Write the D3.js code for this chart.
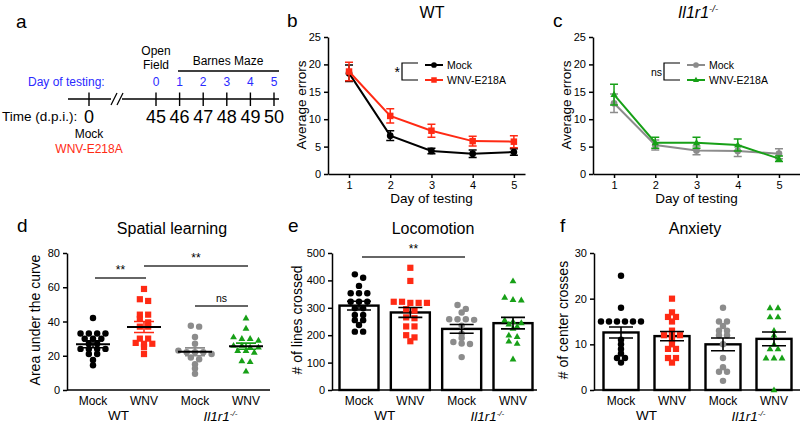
<!DOCTYPE html>
<html><head><meta charset="utf-8">
<script src="https://cdn.jsdelivr.net/npm/d3@7"></script>
<style>
body{margin:0;background:#fff;}
svg{display:block;font-family:"Liberation Sans",Arial,Helvetica,sans-serif;}
</style></head><body>
<svg id="chart" width="800" height="424"></svg>
<script>
// ---------------- data ----------------
const timelineDays = [0, 45, 46, 47, 48, 49, 50];
const testingDayLabels = ["", "0", "1", "2", "3", "4", "5"];

const days = [1, 2, 3, 4, 5];
const wtMockErrors = [18.4, 7.0, 4.2, 3.7, 4.0];
const wtMockSem    = [1.5, 0.9, 0.5, 0.7, 0.6];
const wtWnvErrors  = [18.7, 10.6, 7.9, 6.0, 5.9];
const wtWnvSem     = [1.7, 1.3, 1.2, 0.9, 1.1];
const koMockErrors = [12.9, 5.3, 4.3, 4.2, 3.7];
const koMockSem    = [1.7, 0.9, 0.8, 1.0, 0.9];
const koWnvErrors  = [14.5, 5.7, 5.7, 5.3, 2.8];
const koWnvSem     = [1.9, 1.0, 1.0, 1.1, 0.5];

const groupLabels = ["Mock", "WNV", "Mock", "WNV"];

// d: Spatial learning (area under the curve)
const aucWtMock  = [42, 33, 33, 33, 33, 30, 30, 30, 27, 27, 24, 24, 24, 24, 21, 21, 17.5, 14.5];
const aucWtWnv   = [59, 53, 52, 44, 44, 41.5, 39.5, 37, 37, 30, 30, 27.5, 27, 27, 25, 21];
const aucKoMock  = [37.5, 37, 31, 27, 23, 22, 22, 22, 21, 19, 18, 15, 12.5, 9.5];
const aucKoWnv   = [42, 36, 31, 30, 30, 29, 26, 26, 25, 25, 23, 23, 22, 17, 16.5, 11];
const aucMean    = [26.7, 36.8, 22.3, 25.6];
const aucSem     = [2.0, 3.2, 2.3, 1.8];

// e: Locomotion (# of lines crossed)
const locoWtMock = [422, 410, 380, 353, 353, 353, 322, 322, 322, 298, 298, 274, 274, 255, 255, 237, 213, 213];
const locoWtWnv  = [446, 398, 322, 318, 318, 318, 322, 295, 290, 265, 262, 232, 232, 200, 192, 178];
const locoKoMock = [310, 296, 283, 258, 258, 258, 256, 235, 205, 190, 175, 170, 168, 120];
const locoKoWnv  = [398, 338, 330, 328, 255, 250, 245, 240, 232, 225, 200, 195, 178, 170, 113];
const locoMean   = [308, 283, 223, 244];
const locoSem    = [16, 18, 16, 21];

// f: Anxiety (# of center crosses)
const anxWtMock  = [25, 18, 15, 15, 15, 15, 15, 15, 11, 10, 9, 8, 7, 7, 6];
const anxWtWnv   = [20, 17, 16, 16, 15, 13, 12, 12, 12, 11, 10, 9, 9, 7, 7, 6];
const anxKoMock  = [18, 15, 15, 14, 13, 13, 12, 12, 10, 7, 5, 4, 4, 2];
const anxKoWnv   = [18, 18, 16, 16, 13, 12, 10, 9, 9, 7, 7, 7, 0];
const anxMean    = [12.6, 11.8, 10.0, 11.2];
const anxSem     = [1.2, 1.0, 1.4, 1.5];

// ---------------- styles ----------------
const C_BLACK = "#000000", C_RED = "#ff2a14", C_GRAY = "#8c8c8c", C_GREEN = "#17a017", C_BLUE = "#2a2aff";
const groupColors = [C_BLACK, C_RED, C_GRAY, C_GREEN];
const groupShapes = ["circle", "square", "circle", "triangle"];

const svg = d3.select("#chart");

function txt(g, x, y, s, opts = {}) {
  const t = g.append("text").attr("x", x).attr("y", y).text(s)
    .attr("font-size", opts.size || 12)
    .attr("fill", opts.fill || "#000")
    .attr("text-anchor", opts.anchor || "start");
  if (opts.italic) t.attr("font-style", "italic");
  if (opts.weight) t.attr("font-weight", opts.weight);
  return t;
}
function koLabel(g, x, y, size) {
  const t = g.append("text").attr("x", x).attr("y", y).attr("text-anchor", "middle")
    .attr("font-size", size).attr("font-style", "italic");
  t.append("tspan").text("Il1r1");
  t.append("tspan").attr("dy", -size * 0.36).attr("font-size", size * 0.6).text("-/-");
  return t;
}
function marker(g, shape, x, y, color, s) {
  if (shape === "circle") {
    g.append("circle").attr("cx", x).attr("cy", y).attr("r", s * 0.52).attr("fill", color);
  } else if (shape === "square") {
    g.append("rect").attr("x", x - s / 2).attr("y", y - s / 2).attr("width", s).attr("height", s).attr("fill", color);
  } else {
    const h = s * 0.95;
    g.append("path").attr("d", `M${x},${y - h * 0.6}L${x + s * 0.55},${y + h * 0.4}L${x - s * 0.55},${y + h * 0.4}Z`).attr("fill", color);
  }
}
function styleAxis(a) {
  a.selectAll("path,line").attr("stroke", "#000").attr("stroke-width", 1.5);
  a.selectAll("text").attr("font-size", 11).attr("fill", "#000")
    .attr("font-family", '"Liberation Sans",Arial,sans-serif');
}

// ---------------- panel a ----------------
const gA = svg.append("g");
txt(gA, 16, 28, "a", { size: 19 });
const xA = d3.scaleLinear().domain([0, 45, 50]).range([89, 156, 274]);
gA.append("line").attr("x1", 68).attr("x2", 279).attr("y1", 99).attr("y2", 99).attr("stroke", "#000").attr("stroke-width", 1.4);
timelineDays.forEach((d, i) => {
  gA.append("line").attr("x1", xA(d)).attr("x2", xA(d)).attr("y1", 92.5).attr("y2", 106).attr("stroke", "#000").attr("stroke-width", 1.4);
  txt(gA, xA(d), 123, String(d), { size: 18, anchor: "middle" });
  if (testingDayLabels[i]) txt(gA, xA(d), 86, testingDayLabels[i], { size: 12, anchor: "middle", fill: C_BLUE });
});
// axis break
gA.append("rect").attr("x", 111).attr("y", 97).attr("width", 11).attr("height", 4).attr("fill", "#fff");
[111, 117].forEach(x => gA.append("line").attr("x1", x).attr("y1", 105).attr("x2", x + 6).attr("y2", 93).attr("stroke", "#000").attr("stroke-width", 1.3));
txt(gA, 2, 121, "Time (d.p.i.):", { size: 13.5 });
txt(gA, 28, 86, "Day of testing:", { size: 12, fill: C_BLUE });
txt(gA, xA(45), 55, "Open", { size: 12, anchor: "middle" });
txt(gA, xA(45), 69, "Field", { size: 12, anchor: "middle" });
txt(gA, 228, 65, "Barnes Maze", { size: 12, anchor: "middle" });
gA.append("line").attr("x1", 178).attr("x2", 279).attr("y1", 71).attr("y2", 71).attr("stroke", "#000").attr("stroke-width", 1.3);
txt(gA, xA(0), 138, "Mock", { size: 12, anchor: "middle" });
txt(gA, xA(0), 153, "WNV-E218A", { size: 12, anchor: "middle", fill: C_RED });

// ---------------- line panels b, c ----------------
function linePanel(cfg) {
  const g = svg.append("g");
  const x = d3.scaleLinear().domain(cfg.xdom).range(cfg.xr);
  const y = d3.scaleLinear().domain([0, 25]).range([174, 37]);
  const ay = g.append("g").attr("transform", `translate(${cfg.xr[0]},0)`)
    .call(d3.axisLeft(y).tickValues([0, 5, 10, 15, 20, 25]).tickSize(4).tickSizeOuter(0));
  styleAxis(ay);
  const ax = g.append("g").attr("transform", `translate(0,174)`)
    .call(d3.axisBottom(x).tickValues(days).tickFormat(d3.format("d")).tickSize(4).tickSizeOuter(0));
  styleAxis(ax);
  cfg.series.forEach(s => {
    const line = d3.line().x((d, i) => x(days[i])).y(d => y(d));
    g.append("path").attr("d", line(s.vals)).attr("fill", "none").attr("stroke", s.color).attr("stroke-width", 2);
    s.vals.forEach((v, i) => {
      const cx = x(days[i]), top = y(v + s.sem[i]), bot = y(v - s.sem[i]);
      g.append("path").attr("d", `M${cx},${top}V${bot}M${cx - 4},${top}H${cx + 4}M${cx - 4},${bot}H${cx + 4}`)
        .attr("stroke", s.color).attr("stroke-width", 1.5).attr("fill", "none");
      marker(g, s.shape, cx, y(v), s.color, 6.5);
    });
  });
  // titles
  txt(g, cfg.letterX, 27, cfg.letter, { size: 19 });
  if (cfg.ko) koLabel(g, cfg.titleX, 18, 16); else txt(g, cfg.titleX, 18, cfg.title, { size: 16, anchor: "middle" });
  txt(g, (x(1) + x(5)) / 2, 203, "Day of testing", { size: 13.5, anchor: "middle" });
  txt(g, 0, 0, "Average errors", { size: 13.5, anchor: "middle" })
    .attr("transform", `translate(${cfg.xr[0] - 22},105) rotate(-90)`);
  // legend with bracket
  const bx = cfg.bracketX;
  g.append("path").attr("d", `M${bx + 16},63H${bx}V80H${bx + 16}`).attr("fill", "none").attr("stroke", "#000").attr("stroke-width", 1.2);
  txt(g, bx - 2, cfg.sigY, cfg.sig, { size: cfg.sigSize, anchor: "end" });
  cfg.series.forEach((s, i) => {
    const ly = 65 + i * 15, lx = bx + 23;
    g.append("line").attr("x1", lx).attr("x2", lx + 18).attr("y1", ly).attr("y2", ly).attr("stroke", s.color).attr("stroke-width", 2);
    marker(g, s.shape, lx + 9, ly, s.color, 5.5);
    txt(g, lx + 22, ly + 4, s.name, { size: 10.5 });
  });
}
linePanel({
  xdom: [0.49, 5.27], xr: [328, 525], letter: "b", letterX: 287, title: "WT", titleX: 432,
  bracketX: 402, sig: "*", sigY: 77, sigSize: 14,
  series: [
    { name: "Mock", vals: wtMockErrors, sem: wtMockSem, color: C_BLACK, shape: "circle" },
    { name: "WNV-E218A", vals: wtWnvErrors, sem: wtWnvSem, color: C_RED, shape: "square" }
  ]
});
linePanel({
  xdom: [0.49, 5.51], xr: [593, 800], letter: "c", letterX: 553, ko: true, titleX: 698,
  bracketX: 664, sig: "ns", sigY: 76, sigSize: 10.5,
  series: [
    { name: "Mock", vals: koMockErrors, sem: koMockSem, color: C_GRAY, shape: "circle" },
    { name: "WNV-E218A", vals: koWnvErrors, sem: koWnvSem, color: C_GREEN, shape: "triangle" }
  ]
});

// ---------------- column panels d, e, f ----------------
function swarm(values, y, cx, spacing, rowH) {
  const pts = values.map(v => ({ v, py: y(v) })).sort((a, b) => a.py - b.py);
  const rows = [];
  pts.forEach(p => {
    const last = rows[rows.length - 1];
    if (last && p.py - last[0].py < rowH) last.push(p); else rows.push([p]);
  });
  rows.forEach(r => r.forEach((p, i) => { p.px = cx + (i - (r.length - 1) / 2) * spacing; }));
  return pts;
}

function columnPanel(cfg) {
  const g = svg.append("g");
  const y = d3.scaleLinear().domain([0, cfg.ymax]).range([390, 253]);
  const x = d3.scalePoint().domain([0, 1, 2, 3]).range(cfg.xr);
  const ay = g.append("g").attr("transform", `translate(${cfg.axisX},0)`)
    .call(d3.axisLeft(y).tickValues(d3.range(0, cfg.ymax + 1, cfg.step)).tickSize(4).tickSizeOuter(0));
  styleAxis(ay);
  g.append("line").attr("x1", cfg.axisX).attr("x2", cfg.axisEnd).attr("y1", 390).attr("y2", 390).attr("stroke", "#000").attr("stroke-width", 1.5);

  // bars
  if (cfg.bars) {
    cfg.mean.forEach((m, i) => {
      g.append("rect").attr("x", x(i) - cfg.bw / 2).attr("y", y(m)).attr("width", cfg.bw).attr("height", 390 - y(m))
        .attr("fill", "#fff").attr("stroke", "#000").attr("stroke-width", 2.4);
    });
  }
  // points
  cfg.data.forEach((vals, i) => {
    swarm(vals, y, x(i), cfg.spacing, 4).forEach(p => marker(g, groupShapes[i], p.px, p.py, groupColors[i], cfg.ms));
  });
  // mean & sem
  cfg.mean.forEach((m, i) => {
    const cx = x(i), t = y(m + cfg.sem[i]), b = y(m - cfg.sem[i]);
    const ec = cfg.bars ? "#000" : groupColors[i];
    const cw = cfg.bars ? 12 : 10;
    g.append("path").attr("d", `M${cx},${t}V${b}M${cx - cw},${t}H${cx + cw}M${cx - cw},${b}H${cx + cw}`)
      .attr("stroke", ec).attr("stroke-width", 1.6).attr("fill", "none");
    if (!cfg.bars) g.append("line").attr("x1", cx - 17).attr("x2", cx + 17).attr("y1", y(m)).attr("y2", y(m)).attr("stroke", "#000").attr("stroke-width", 2);
  });
  // labels
  groupLabels.forEach((l, i) => txt(g, x(i), 405, l, { size: 12, anchor: "middle" }));
  txt(g, (x(0) + x(1)) / 2, 420, "WT", { size: 13.5, anchor: "middle" });
  koLabel(g, (x(2) + x(3)) / 2, 421, 13.5);
  txt(g, cfg.letterX, 232, cfg.letter, { size: 19 });
  txt(g, cfg.titleX, 234, cfg.title, { size: 16, anchor: "middle" });
  txt(g, 0, 0, cfg.ylabel, { size: 14, anchor: "middle" })
    .attr("transform", `translate(${cfg.axisX - cfg.ylabOff},320) rotate(-90)`);
  // significance
  (cfg.sigs || []).forEach(s => {
    g.append("line").attr("x1", s.x1).attr("x2", s.x2).attr("y1", s.y).attr("y2", s.y).attr("stroke", "#333").attr("stroke-width", 1.3);
    txt(g, (s.x1 + s.x2) / 2, s.y - 4, s.label, { size: s.label === "ns" ? 10.5 : 12, anchor: "middle" });
  });
}

columnPanel({
  letter: "d", letterX: 17, title: "Spatial learning", titleX: 172, ylabel: "Area under the curve", ylabOff: 27,
  ymax: 80, step: 20, xr: [93, 246], axisX: 67, axisEnd: 270, bars: false, ms: 6.2, spacing: 8.3,
  data: [aucWtMock, aucWtWnv, aucKoMock, aucKoWnv], mean: aucMean, sem: aucSem,
  sigs: [{ x1: 95, x2: 146, y: 278, label: "**" }, { x1: 144, x2: 248, y: 266, label: "**" }, { x1: 195, x2: 248, y: 306, label: "ns" }]
});
columnPanel({
  letter: "e", letterX: 288, title: "Locomotion", titleX: 433, ylabel: "# of lines crossed", ylabOff: 30,
  ymax: 500, step: 100, xr: [359, 513], axisX: 332, axisEnd: 537, bars: true, bw: 39, ms: 6.2, spacing: 8.3,
  data: [locoWtMock, locoWtWnv, locoKoMock, locoKoWnv], mean: locoMean, sem: locoSem,
  sigs: [{ x1: 362, x2: 465, y: 257, label: "**" }]
});
columnPanel({
  letter: "f", letterX: 560, title: "Anxiety", titleX: 695, ylabel: "# of center crosses", ylabOff: 26,
  ymax: 30, step: 10, xr: [621, 774], axisX: 594, axisEnd: 800, bars: true, bw: 35, ms: 6.2, spacing: 8.0,
  data: [anxWtMock, anxWtWnv, anxKoMock, anxKoWnv], mean: anxMean, sem: anxSem
});
</script>
</body></html>
